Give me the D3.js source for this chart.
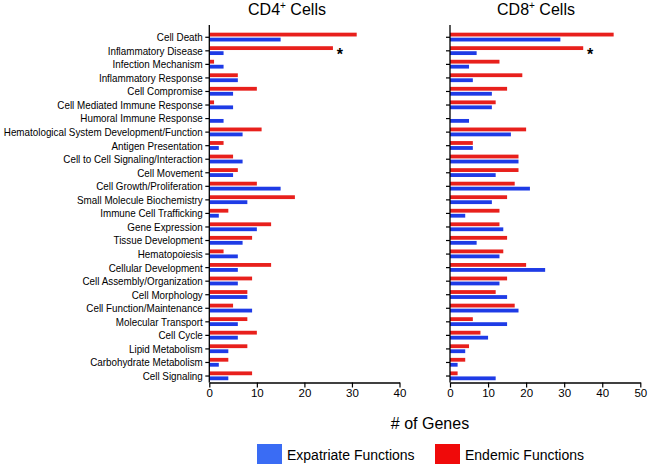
<!DOCTYPE html>
<html><head><meta charset="utf-8">
<script src="https://cdn.jsdelivr.net/npm/d3@7"></script>
<style>body{margin:0;background:#fff}svg{display:block;font-family:"Liberation Sans",Arial,sans-serif}</style>
</head><body>
<svg id="c" width="650" height="467"></svg>
<script>
const categories = ["Cell Death","Inflammatory Disease","Infection Mechanism","Inflammatory Response","Cell Compromise","Cell Mediated Immune Response","Humoral Immune Response","Hematological System Development/Function","Antigen Presentation","Cell to Cell Signaling/Interaction","Cell Movement","Cell Growth/Proliferation","Small Molecule Biochemistry","Immune Cell Trafficking","Gene Expression","Tissue Development","Hematopoiesis","Cellular Development","Cell Assembly/Organization","Cell Morphology","Cell Function/Maintenance","Molecular Transport","Cell Cycle","Lipid Metabolism","Carbohydrate Metabolism","Cell Signaling"];
const cd4Endemic   = [31,26,1,6,10,1,0,11,3,5,6,10,18,4,13,9,3,13,9,8,5,8,10,8,4,9];
const cd4Expatriate= [15,3,3,6,5,5,3,7,2,7,5,15,8,2,10,7,6,6,6,8,9,6,6,4,2,4];
const cd8Endemic   = [43,35,13,19,15,12,0,20,6,18,18,17,15,13,13,15,14,20,15,12,17,6,8,5,4,2];
const cd8Expatriate= [29,7,5,6,11,11,5,16,6,18,12,21,11,4,14,7,13,25,13,15,18,15,10,4,2,12];
const cd4Ticks = [0,10,20,30,40];
const cd8Ticks = [0,10,20,30,40,50];
const significant = ["Inflammatory Disease"];
const seriesNames = ["Expatriate Functions","Endemic Functions"];

const svg = d3.select("#c");
const blue = "#1e3be6", red = "#e8201c";
const y = d3.scaleBand().domain(categories).range([30.5, 382.8]).padding(0);
const yTop = 25, yBot = 382.5;

function panel(x0, x1, max, ticks, endemic, expat, title, titleX, showLabels){
  const x = d3.scaleLinear().domain([0, max]).range([x0, x1]);
  const g = svg.append("g");
  const c = y.bandwidth()/2;
  g.selectAll(".r").data(categories).join("rect")
    .attr("x", x(0)).attr("y", d => y(d) + c - 4.6)
    .attr("width", (d,i) => x(endemic[i]) - x(0)).attr("height", 3.8).attr("fill", red);
  g.selectAll(".b").data(categories).join("rect")
    .attr("x", x(0)).attr("y", d => y(d) + c + 0.4)
    .attr("width", (d,i) => x(expat[i]) - x(0)).attr("height", 3.8).attr("fill", blue);
  const ax = g.append("g").attr("transform", `translate(0,${yBot})`)
    .call(d3.axisBottom(x).tickValues(ticks).tickSize(5).tickSizeOuter(0));
  ax.select(".domain").attr("stroke","#000").attr("stroke-width",1.3);
  ax.selectAll(".tick line").attr("stroke","#000").attr("stroke-width",1.2);
  ax.selectAll("text").attr("font-size", 11.5).attr("fill","#000").attr("dy","0.6em")
    .attr("font-family","'Liberation Sans Narrow','Liberation Sans',Arial,sans-serif");
  g.append("line").attr("x1", x(0)).attr("x2", x(0)).attr("y1", yTop).attr("y2", yBot)
    .attr("stroke","#000").attr("stroke-width",1.3);
  g.selectAll(".yt").data(categories).join("line")
    .attr("x1", x(0)-4).attr("x2", x(0)).attr("y1", d => y(d)+c).attr("y2", d => y(d)+c)
    .attr("stroke","#000").attr("stroke-width",1.2);
  if (showLabels) {
    const labels = g.selectAll(".yl").data(categories).join("text")
      .attr("x", x(0)-6.5).attr("y", d => y(d)+c).attr("dy","0.36em")
      .attr("text-anchor","end").attr("font-size",10.8).attr("fill","#000").text(d => d);
    let maxLen = 0;
    const lens = [];
    labels.each(function(){ const l = this.getComputedTextLength(); lens.push(l); maxLen = Math.max(maxLen, l); });
    const f = Math.min(1, 199 / maxLen);
    labels.attr("textLength", (d,i) => lens[i]*f).attr("lengthAdjust","spacingAndGlyphs");
  }
  significant.forEach(s => {
    const i = categories.indexOf(s);
    g.append("text").attr("x", x(endemic[i]) + 7).attr("y", y(s)+c+9)
      .attr("font-size",16).attr("font-weight","bold").attr("text-anchor","middle").text("*");
  });
  const t = svg.append("text").attr("x", titleX).attr("y", 14.5).attr("text-anchor","middle")
    .attr("font-size",16).attr("fill","#000");
  t.append("tspan").text(title);
  t.append("tspan").attr("font-size",10).attr("dy",-6).text("+");
  t.append("tspan").attr("dy",6).text(" Cells");
}

panel(209.3, 399.5, 40, cd4Ticks, cd4Endemic, cd4Expatriate, "CD4", 287, true);
panel(450, 640.3, 50, cd8Ticks, cd8Endemic, cd8Expatriate, "CD8", 536, false);

svg.append("text").attr("x", 430).attr("y", 429).attr("text-anchor","middle")
  .attr("font-size",16).attr("fill","#000").text("# of Genes");

const legend = [{name: seriesNames[0], color:"#3a6cf4", x:257},{name: seriesNames[1], color:"#f00a0a", x:435}];
const lg = svg.selectAll(".lg").data(legend).join("g");
lg.append("rect").attr("x", d => d.x).attr("y", 444).attr("width",25).attr("height",20).attr("fill", d => d.color);
lg.append("text").attr("x", d => d.x+30).attr("y", 459.5).attr("font-size",14).attr("fill","#000").text(d => d.name);
</script>
</body></html>
